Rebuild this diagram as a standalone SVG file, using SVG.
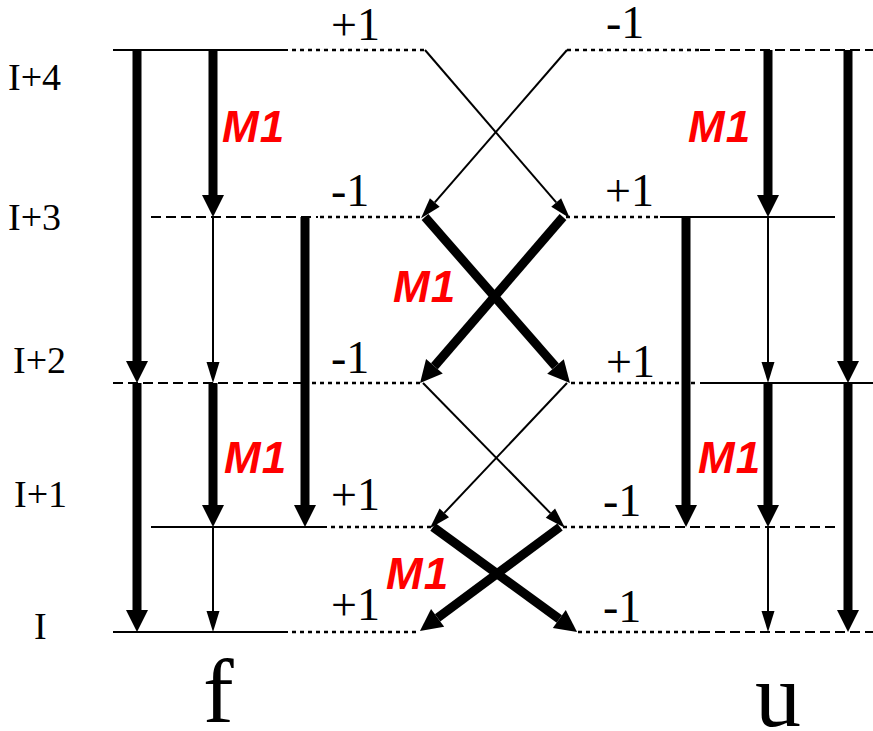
<svg xmlns="http://www.w3.org/2000/svg" width="873" height="731" viewBox="0 0 873 731">
<style>
.solid{stroke:#000;stroke-width:2.2;fill:none}
.dash{stroke:#000;stroke-width:2.2;stroke-dasharray:10 5;fill:none}
.dot{stroke:#000;stroke-width:2.5;stroke-dasharray:4 4;fill:none}
.thick{stroke:#000;stroke-width:9;fill:none;marker-end:url(#ahThick)}
.thin{stroke:#000;stroke-width:2;fill:none;marker-end:url(#ahThin)}
.lvl{font-family:"Liberation Serif","Times New Roman",serif;font-size:38px;fill:#000}
.q{font-family:"Liberation Serif","Times New Roman",serif;font-size:46px;fill:#000}
.big{font-family:"Liberation Serif","Times New Roman",serif;font-size:92px;fill:#000}
.m1{font-family:"Liberation Sans",Arial,sans-serif;font-size:44px;font-weight:bold;font-style:italic;fill:#ff0000;letter-spacing:1px}
</style>
<defs>
<marker id="ahThick" markerUnits="userSpaceOnUse" markerWidth="24" markerHeight="24" refX="0" refY="12" orient="auto" overflow="visible">
<path d="M0,1 L22,12 L0,23 z" fill="#000"/>
</marker>
<marker id="ahThin" markerUnits="userSpaceOnUse" markerWidth="21" markerHeight="14" refX="0" refY="7" orient="auto" overflow="visible">
<path d="M0,0.5 L21,7 L0,13.5 z" fill="#000"/>
</marker>
</defs>
<rect width="873" height="731" fill="#fff"/>

<g id="levels">
<line class="solid" x1="113" y1="50" x2="288" y2="50"/>
<line class="dot" x1="292" y1="50" x2="425" y2="50"/>
<line class="dash" x1="151" y1="217" x2="318" y2="217"/>
<line class="dot" x1="320" y1="217" x2="423" y2="217"/>
<line class="dash" x1="113" y1="383" x2="308" y2="383"/>
<line class="dot" x1="312" y1="383" x2="420" y2="383"/>
<line class="solid" x1="151" y1="527" x2="327" y2="527"/>
<line class="dot" x1="331" y1="527" x2="433" y2="527"/>
<line class="solid" x1="113" y1="632" x2="288" y2="632"/>
<line class="dot" x1="292" y1="632" x2="420" y2="632"/>

<line class="dot" x1="567" y1="50" x2="700" y2="50"/>
<line class="dash" x1="700" y1="50" x2="873" y2="50"/>
<line class="dot" x1="566" y1="217" x2="660" y2="217"/>
<line class="solid" x1="660" y1="217" x2="835" y2="217"/>
<line class="dot" x1="571" y1="383" x2="698" y2="383"/>
<line class="solid" x1="700" y1="383" x2="873" y2="383"/>
<line class="dot" x1="563" y1="527" x2="660" y2="527"/>
<line class="dash" x1="660" y1="527" x2="835" y2="527"/>
<line class="dot" x1="578" y1="632" x2="700" y2="632"/>
<line class="dash" x1="700" y1="632" x2="873" y2="632"/>
</g>

<g id="connectors">
<line class="thick" x1="137" y1="50" x2="137" y2="361"/>
<line class="thick" x1="137" y1="383" x2="137" y2="610"/>
<line class="thick" x1="213" y1="50" x2="213" y2="195"/>
<line class="thin" x1="213" y1="217" x2="213" y2="362"/>
<line class="thick" x1="213" y1="383" x2="213" y2="505"/>
<line class="thin" x1="213" y1="527" x2="213" y2="611"/>
<line class="thick" x1="305" y1="217" x2="305" y2="505"/>

<line class="thick" x1="768" y1="50" x2="768" y2="195"/>
<line class="thin" x1="768" y1="217" x2="768" y2="362"/>
<line class="thick" x1="768" y1="383" x2="768" y2="505"/>
<line class="thin" x1="768" y1="527" x2="768" y2="611"/>
<line class="thick" x1="848" y1="50" x2="848" y2="361"/>
<line class="thick" x1="848" y1="383" x2="848" y2="610"/>
<line class="thick" x1="686" y1="217" x2="686" y2="505"/>

<line class="thin" x1="425" y1="50" x2="556.2" y2="202.4"/>
<line class="thin" x1="567" y1="50" x2="434.8" y2="202.4"/>
<line class="thick" x1="425" y1="217" x2="555.5" y2="366.4"/>
<line class="thick" x1="563" y1="217" x2="434.4" y2="366.3"/>
<line class="thin" x1="423" y1="383" x2="550.4" y2="513.1"/>
<line class="thin" x1="567" y1="383" x2="444.3" y2="512.9"/>
<line class="thick" x1="433" y1="527" x2="559.3" y2="619"/>
<line class="thick" x1="560" y1="527" x2="437.6" y2="617.8"/>
</g>

<g id="labels">
<text class="lvl" x="8" y="90">I+4</text>
<text class="lvl" x="8" y="230">I+3</text>
<text class="lvl" x="13" y="373">I+2</text>
<text class="lvl" x="14" y="507">I+1</text>
<text class="lvl" x="34" y="639">I</text>

<text class="q" x="331" y="40">+1</text>
<text class="q" x="606" y="38">-1</text>
<text class="q" x="331" y="206">-1</text>
<text class="q" x="605" y="206">+1</text>
<text class="q" x="331" y="373">-1</text>
<text class="q" x="606" y="377">+1</text>
<text class="q" x="331" y="510">+1</text>
<text class="q" x="603" y="516">-1</text>
<text class="q" x="331" y="620">+1</text>
<text class="q" x="603" y="622">-1</text>

<text class="big" x="203" y="722">f</text>
<text class="big" x="755" y="726">u</text>

<text class="m1" x="222" y="142">M1</text>
<text class="m1" x="688" y="142">M1</text>
<text class="m1" x="393" y="302">M1</text>
<text class="m1" x="224" y="473">M1</text>
<text class="m1" x="698" y="473">M1</text>
<text class="m1" x="386" y="589">M1</text>
</g>
</svg>
